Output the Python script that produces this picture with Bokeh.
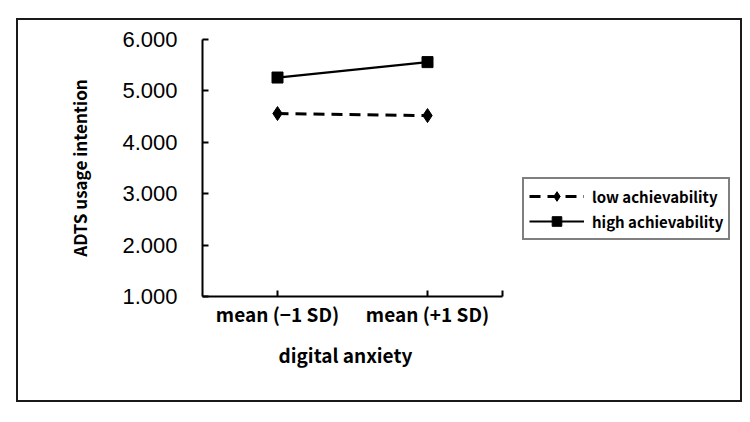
from bokeh.plotting import figure
from bokeh.models import ColumnDataSource, FixedTicker, Legend, LegendItem, Range1d, Title
from bokeh.embed import file_html
from bokeh.resources import INLINE

categories = ["mean (\u22121 SD)", "mean (+1 SD)"]
low_ach = [4.56, 4.52]
high_ach = [5.26, 5.56]
y_ticks = [1, 2, 3, 4, 5, 6]

n = len(categories)
xs = [i + 0.5 for i in range(n)]

FRAME_W = 532
AXIS_W = 300  # pixels occupied by the category axis
x_end = n * FRAME_W / AXIS_W

p = figure(frame_width=FRAME_W, frame_height=257, output_backend="svg", toolbar_location=None,
           x_range=Range1d(0, x_end), y_range=Range1d(1, 6),
           min_border_left=184, min_border_right=6, min_border_top=19,
           min_border_bottom=104,
           margin=(18, 0, 0, 16),
           styles={"border": "2px solid #1a1a1a"})
p.outline_line_color = None
p.xgrid.grid_line_color = None
p.ygrid.grid_line_color = None
p.background_fill_color = "white"
p.border_fill_color = "white"

src_low = ColumnDataSource(dict(x=xs, y=low_ach))
src_high = ColumnDataSource(dict(x=xs, y=high_ach))

l1 = p.line("x", "y", source=src_low, line_color="black", line_width=3, line_dash="11 7")
m1 = p.scatter("x", "y", source=src_low, marker="diamond", size=14, color="black")
l2 = p.line("x", "y", source=src_high, line_color="black", line_width=2.2)
m2 = p.scatter("x", "y", source=src_high, marker="square", size=11, color="black")

# y axis
ya = p.yaxis[0]
ya.ticker = FixedTicker(ticks=y_ticks)
ya.major_label_overrides = {t: f"{t:.3f}" for t in y_ticks}
ya.minor_tick_line_color = None
ya.major_tick_in = 6
ya.major_tick_out = 0
ya.axis_line_width = 2
ya.axis_line_color = "black"
ya.major_tick_line_width = 2
ya.major_tick_line_color = "black"
ya.major_label_text_font = "Liberation Sans"
ya.major_label_text_font_size = "22px"
ya.major_label_text_color = "black"
ya.major_label_standoff = 25
ya.axis_label = "ADTS usage intention"
ya.axis_label_text_font = "Noto Sans CJK JP"
ya.axis_label_text_font_style = "bold"
ya.axis_label_text_font_size = "17px"
ya.axis_label_text_color = "black"
ya.axis_label_standoff = 27

# x axis
xa = p.xaxis[0]
xa.bounds = (0, n)
xa.ticker = FixedTicker(ticks=xs + [n])
overrides = {x: c for x, c in zip(xs, categories)}
overrides[n] = ""
xa.major_label_overrides = overrides
xa.minor_tick_line_color = None
xa.major_tick_in = 6
xa.major_tick_out = 0
xa.axis_line_width = 2
xa.axis_line_color = "black"
xa.major_tick_line_width = 2
xa.major_tick_line_color = "black"
xa.major_label_text_font = "Noto Sans CJK JP"
xa.major_label_text_font_style = "bold"
xa.major_label_text_font_size = "19px"
xa.major_label_text_color = "black"
xa.major_label_standoff = 3

x_title = Title(text="digital anxiety", align="left", offset=76,
                text_font="Noto Sans CJK JP", text_font_style="bold",
                text_font_size="19px", text_color="black", standoff=22,
                vertical_align="top")
p.add_layout(x_title, "below")

legend = Legend(items=[
    LegendItem(label="low achievability", renderers=[l1, m1]),
    LegendItem(label="high achievability", renderers=[l2, m2]),
], location=(320, 56))
legend.border_line_color = "black"
legend.border_line_width = 2
legend.background_fill_alpha = 1
legend.label_text_font = "Noto Sans CJK JP"
legend.label_text_font_style = "bold"
legend.label_text_font_size = "15px"
legend.label_text_color = "black"
legend.glyph_width = 55
legend.glyph_height = 24
legend.label_height = 20
legend.spacing = 1
legend.padding = 5
legend.margin = 0
legend.label_standoff = 8
p.add_layout(legend, "center")

open("out.html", "w").write(file_html(p, INLINE))
